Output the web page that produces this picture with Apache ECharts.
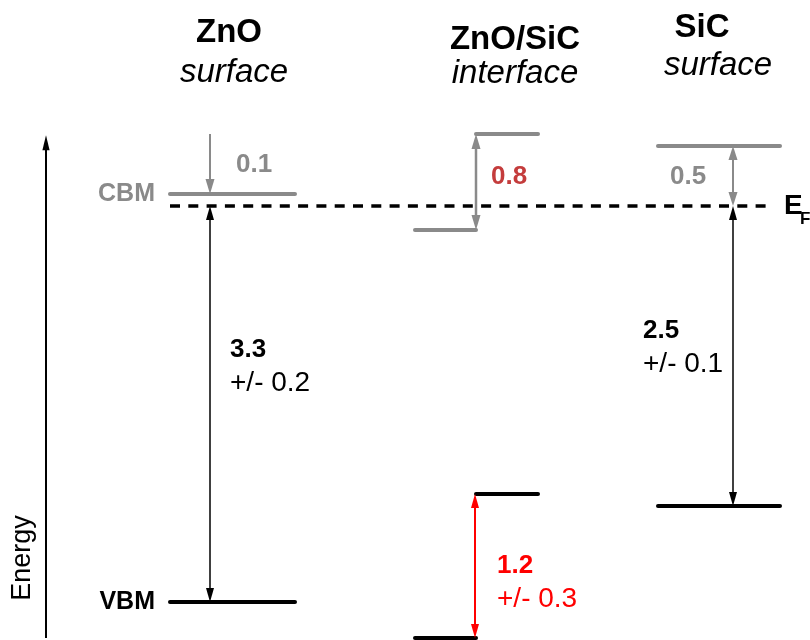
<!DOCTYPE html>
<html>
<head>
<meta charset="utf-8">
<title>ZnO / SiC band alignment</title>
<script src="https://cdn.jsdelivr.net/npm/echarts@6/dist/echarts.min.js"></script>
<style>
  html, body { margin: 0; padding: 0; background: #fff; }
  #chart { width: 810px; height: 640px; }
</style>
</head>
<body>
<div id="chart"></div>
<script>
// ---- Band-edge data (eV, referenced to the Fermi level) ----
const fermiLevel = 0;
const materials = ['ZnO', 'ZnO/SiC', 'SiC'];
const regions = ['surface', 'interface', 'surface'];
// order: ZnO surface, interface (ZnO side), interface (SiC side), SiC surface
const cbmLevels = [0.1, -0.2, 0.6, 0.5];
const vbmLevels = [-3.3, -3.6, -2.4, -2.5];
const gapErrors = ['+/- 0.2', '+/- 0.3', '+/- 0.1'];

// ---- Layout & styles ----
const FONT = '"Liberation Sans", Arial, Helvetica, sans-serif';
const GREY = '#8a8a8a';
const BLACK = '#000000';
const RED = '#ff0000';
const DARK_RED = '#c43c3c';
// horizontal spans of the band levels (1 unit = 10 px)
const levelSpans = [[17, 29.5], [41.5, 47.6], [47.6, 53.8], [65.8, 78]];
const arrowX = [21, 47.6, 73.3];
const fermiSpan = [17, 77];
const energyAxisX = 4.6;
const energyAxisRange = [-3.6, 0.59];

const fmt = v => Math.abs(v).toFixed(1);

// band level segments
const levelData = [];
levelSpans.forEach((span, i) => {
  levelData.push({ value: [span[0], span[1], cbmLevels[i]], itemStyle: { color: GREY } });
  levelData.push({ value: [span[0], span[1], vbmLevels[i]], itemStyle: { color: BLACK } });
});

// vertical arrows: [x, fromE, toE, headAtFrom, headAtTo]
const arrowSpecs = [
  { v: [energyAxisX, energyAxisRange[0], energyAxisRange[1], 0, 1], color: BLACK, lw: 2, hl: 15, hw: 3.6 },
  { v: [arrowX[0], 0.6, cbmLevels[0], 0, 1], color: GREY, lw: 2, hl: 15, hw: 4.5 },
  { v: [arrowX[0], fermiLevel, vbmLevels[0], 1, 1], color: BLACK, lw: 1.5, hl: 14, hw: 4 },
  { v: [arrowX[1], cbmLevels[1], cbmLevels[2], 1, 1], color: GREY, lw: 2.5, hl: 15, hw: 4.5 },
  { v: [arrowX[1] - 0.1, vbmLevels[1], vbmLevels[2], 1, 1], color: RED, lw: 2, hl: 14, hw: 4 },
  { v: [arrowX[2], fermiLevel, cbmLevels[3], 1, 1], color: GREY, lw: 2, hl: 14, hw: 4.5 },
  { v: [arrowX[2], fermiLevel, vbmLevels[3], 1, 1], color: BLACK, lw: 1.5, hl: 14, hw: 4 }
];

// value labels: [x, E]
const labelSpecs = [
  { v: [15.5, cbmLevels[0]], text: 'CBM', color: GREY, font: 'bold 25px ' + FONT, align: 'right' },
  { v: [15.5, vbmLevels[0]], text: 'VBM', color: BLACK, font: 'bold 25px ' + FONT, align: 'right' },
  { v: [23.6, 0.34], text: fmt(cbmLevels[0] - fermiLevel), color: GREY, font: 'bold 26px ' + FONT, align: 'left' },
  { v: [49.1, 0.24], text: fmt(cbmLevels[2] - cbmLevels[1]), color: DARK_RED, font: 'bold 26px ' + FONT, align: 'left' },
  { v: [67.0, 0.24], text: fmt(cbmLevels[3] - fermiLevel), color: GREY, font: 'bold 26px ' + FONT, align: 'left' },
  { v: [23.0, -1.2], text: fmt(fermiLevel - vbmLevels[0]), color: BLACK, font: 'bold 26px ' + FONT, align: 'left' },
  { v: [23.0, -1.2], dy: 33, text: gapErrors[0], color: BLACK, font: '28px ' + FONT, align: 'left' },
  { v: [49.7, -3.0], text: fmt(vbmLevels[2] - vbmLevels[1]), color: RED, font: 'bold 26px ' + FONT, align: 'left' },
  { v: [49.7, -3.0], dy: 33, text: gapErrors[1], color: RED, font: '28px ' + FONT, align: 'left' },
  { v: [64.3, -1.04], text: fmt(fermiLevel - vbmLevels[3]), color: BLACK, font: 'bold 26px ' + FONT, align: 'left' },
  { v: [64.3, -1.04], dy: 33, text: gapErrors[2], color: BLACK, font: '28px ' + FONT, align: 'left' },
  { v: [78.4, fermiLevel], text: 'E', color: BLACK, font: 'bold 28px ' + FONT, align: 'left' },
  { v: [80.0, fermiLevel], dy: 13, text: 'F', color: BLACK, font: 'bold 17px ' + FONT, align: 'left' }
];

function renderLevel(params, api) {
  const a = api.coord([api.value(0), api.value(2)]);
  const b = api.coord([api.value(1), api.value(2)]);
  return {
    type: 'line',
    shape: { x1: a[0], y1: a[1], x2: b[0], y2: b[1] },
    style: { stroke: api.visual('color'), lineWidth: 4, lineCap: 'round' }
  };
}

function renderFermi(params, api) {
  const a = api.coord([api.value(0), api.value(2)]);
  const b = api.coord([api.value(1), api.value(2)]);
  return {
    type: 'line',
    shape: { x1: a[0], y1: a[1], x2: b[0], y2: b[1] },
    style: { stroke: BLACK, lineWidth: 3.5, lineDash: [10, 8.3] }
  };
}

function head(tip, ux, uy, len, hw) {
  const bx = tip[0] - ux * len, by = tip[1] - uy * len;
  return [[tip[0], tip[1]], [bx - uy * hw, by + ux * hw], [bx + uy * hw, by - ux * hw]];
}

function renderArrow(params, api) {
  const spec = arrowSpecs[params.dataIndex];
  const a = api.coord([api.value(0), api.value(1)]);
  const b = api.coord([api.value(0), api.value(2)]);
  const dx = b[0] - a[0], dy = b[1] - a[1];
  const L = Math.sqrt(dx * dx + dy * dy) || 1;
  const ux = dx / L, uy = dy / L;
  const children = [];
  const s = api.value(3) ? spec.hl * 0.8 : 0;
  const e = api.value(4) ? spec.hl * 0.8 : 0;
  children.push({
    type: 'line',
    shape: { x1: a[0] + ux * s, y1: a[1] + uy * s, x2: b[0] - ux * e, y2: b[1] - uy * e },
    style: { stroke: spec.color, lineWidth: spec.lw }
  });
  if (api.value(3)) {
    children.push({ type: 'polygon', shape: { points: head(a, -ux, -uy, spec.hl, spec.hw) }, style: { fill: spec.color } });
  }
  if (api.value(4)) {
    children.push({ type: 'polygon', shape: { points: head(b, ux, uy, spec.hl, spec.hw) }, style: { fill: spec.color } });
  }
  return { type: 'group', children };
}

function renderLabel(params, api) {
  const spec = labelSpecs[params.dataIndex];
  const p = api.coord([api.value(0), api.value(1)]);
  return {
    type: 'text',
    x: p[0],
    y: p[1] + (spec.dy || 0),
    style: {
      text: spec.text,
      font: spec.font,
      fill: spec.color,
      align: spec.align, textAlign: spec.align,
      verticalAlign: 'middle', textVerticalAlign: 'middle'
    }
  };
}

function heading(text, x, y, font) {
  return {
    type: 'text', x, y, silent: true,
    style: {
      text, font, fill: BLACK,
      align: 'center', textAlign: 'center',
      verticalAlign: 'middle', textVerticalAlign: 'middle'
    }
  };
}

const chart = echarts.init(document.getElementById('chart'), null, { renderer: 'canvas' });
chart.setOption({
  animation: false,
  backgroundColor: '#ffffff',
  grid: { left: 0, right: 0, top: 0, bottom: 0 },
  xAxis: { type: 'value', min: 0, max: 81, show: false },
  yAxis: { type: 'value', min: -3.6167, max: 1.7167, show: false },
  graphic: [
    heading(materials[0], 229, 33, 'bold 33px ' + FONT),
    heading(regions[0], 234, 73, 'italic 33px ' + FONT),
    heading(materials[1], 515, 40, 'bold 33px ' + FONT),
    heading(regions[1], 515, 74, 'italic 33px ' + FONT),
    heading(materials[2], 702, 28, 'bold 33px ' + FONT),
    heading(regions[2], 718, 66, 'italic 33px ' + FONT),
    {
      type: 'text', x: 23, y: 558, rotation: Math.PI / 2, silent: true,
      style: {
        text: 'Energy', font: '27px ' + FONT, fill: BLACK,
        align: 'center', textAlign: 'center',
        verticalAlign: 'middle', textVerticalAlign: 'middle'
      }
    }
  ],
  series: [
    {
      type: 'custom', name: 'Fermi level', renderItem: renderFermi, silent: true,
      data: [[fermiSpan[0], fermiSpan[1], fermiLevel]]
    },
    {
      type: 'custom', name: 'Band edges', renderItem: renderLevel, silent: true,
      data: levelData
    },
    {
      type: 'custom', name: 'Offsets', renderItem: renderArrow, silent: true,
      data: arrowSpecs.map(a => a.v)
    },
    {
      type: 'custom', name: 'Labels', renderItem: renderLabel, silent: true,
      data: labelSpecs.map(l => l.v)
    }
  ]
});
</script>
</body>
</html>
